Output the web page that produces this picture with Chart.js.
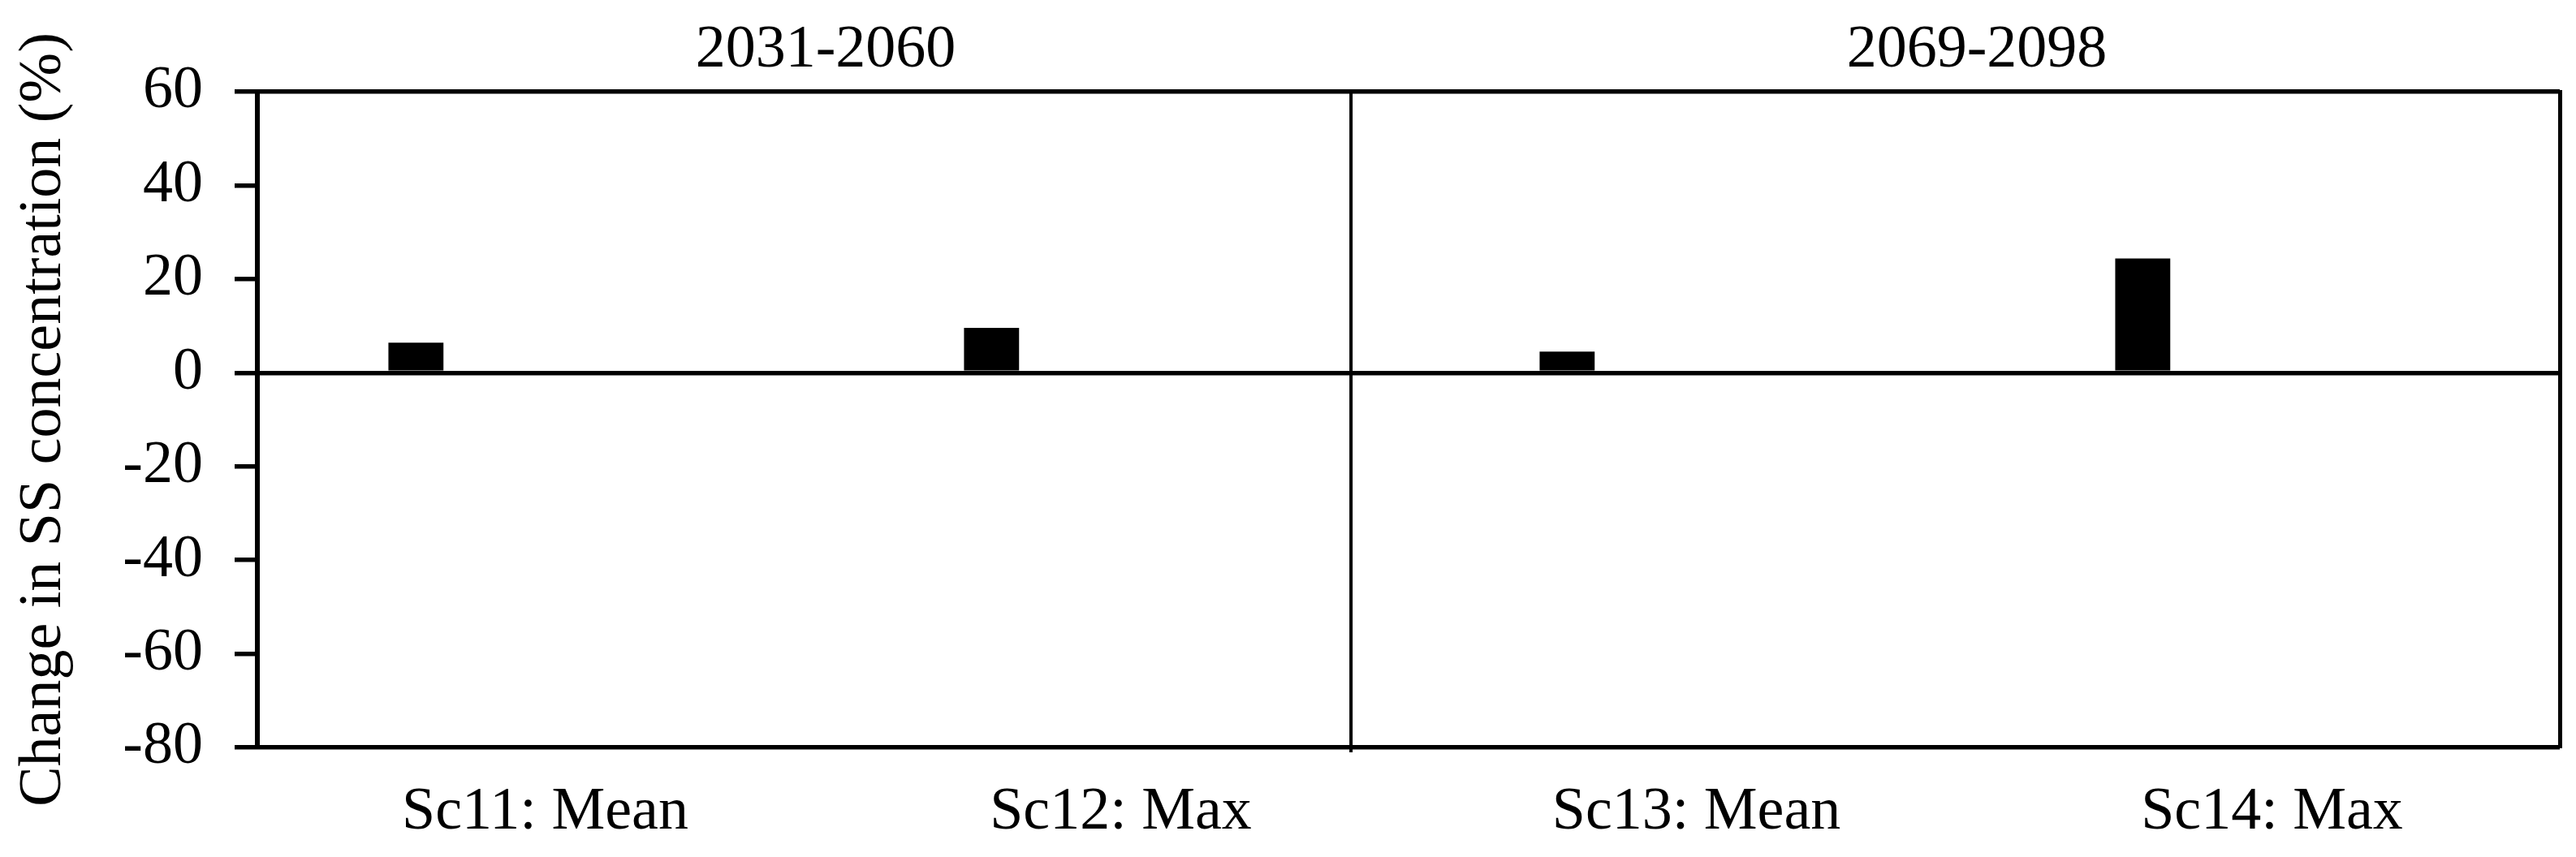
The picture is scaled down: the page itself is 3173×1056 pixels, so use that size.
<!DOCTYPE html>
<html>
<head>
<meta charset="utf-8">
<script src="https://cdn.jsdelivr.net/npm/chart.js@4.4.1/dist/chart.umd.min.js"></script>
<style>
  html, body { margin: 0; padding: 0; background: #fff; }
  canvas { display: block; }
</style>
</head>
<body>
<canvas id="ssChange" width="3173" height="1056"></canvas>
<script>
// scenarios on the x axis
const scenarios = ['Sc11: Mean', 'Sc12: Max', 'Sc13: Mean', 'Sc14: Max'];
// change in SS concentration (%)
const ssChange = [6.4, 9.6, 4.5, 24.4];
// periods shown above the plot
const periods = ['2031-2060', '2069-2098'];
// y ticks
const yTicks = [60, 40, 20, 0, -20, -40, -60, -80];

// the vertical line between the two periods (category index units)
const dividerAt = 1.4;

const font = { family: '"Liberation Serif", "Times New Roman", serif', size: 74 };

const periodDivider = {
    id: 'periodDivider',
    afterDatasetsDraw(chart) {
        const { ctx, chartArea, scales } = chart;
        const px = scales.x.getPixelForValue(dividerAt);
        ctx.save();
        ctx.strokeStyle = '#000';
        ctx.lineWidth = 4;
        ctx.beginPath();
        ctx.moveTo(px, chartArea.top);
        ctx.lineTo(px, chartArea.bottom + 6);
        ctx.stroke();
        ctx.restore();
    }
};

new Chart(document.getElementById('ssChange'), {
    type: 'bar',
    data: {
        labels: scenarios,
        datasets: [
            {
                label: 'Change in SS concentration',
                data: ssChange,
                backgroundColor: '#000',
                borderWidth: 0,
                categoryPercentage: 0.898,
                barPercentage: 0.213
            },
            {
                // empty slot of the clustered layout
                label: '',
                data: scenarios.map(() => null),
                backgroundColor: '#000',
                categoryPercentage: 0.898,
                barPercentage: 0.213
            }
        ]
    },
    options: {
        responsive: false,
        animation: false,
        layout: { padding: { left: 0, right: 20, top: 0, bottom: 0 } },
        plugins: {
            legend: { display: false },
            tooltip: { enabled: false }
        },
        scales: {
            x: {
                position: 'bottom',
                offset: true,
                grid: { display: false, drawTicks: false },
                border: { display: false },
                ticks: {
                    color: '#000',
                    font: font,
                    padding: 36,
                    maxRotation: 0,
                    autoSkip: false
                },
                afterFit: (scale) => { scale.height = 135; }
            },
            x2: {
                type: 'category',
                position: 'top',
                labels: periods,
                offset: true,
                grid: { display: false, drawTicks: false },
                border: { display: false },
                ticks: {
                    color: '#000',
                    font: font,
                    padding: 6,
                    labelOffset: -9,
                    maxRotation: 0,
                    autoSkip: false
                },
                afterFit: (scale) => { scale.height = 113; }
            },
            y: {
                position: 'left',
                min: -80,
                max: 60,
                afterBuildTicks: (scale) => {
                    scale.ticks = yTicks.map(v => ({ value: v }));
                },
                grid: {
                    color: (ctx) => [60, 0, -80].includes(ctx.tick && ctx.tick.value) ? '#000' : 'rgba(0,0,0,0)',
                    lineWidth: 5.5,
                    tickColor: '#000',
                    tickWidth: 5.5,
                    tickLength: 28
                },
                border: { display: true, color: '#000', width: 6 },
                ticks: {
                    color: '#000',
                    font: font,
                    padding: 39
                },
                title: {
                    display: true,
                    text: 'Change in SS concentration (%)',
                    color: '#000',
                    font: font,
                    padding: { top: 10, bottom: 0 }
                },
                afterFit: (scale) => { scale.width = 317; }
            },
            yr: {
                position: 'right',
                grid: { drawOnChartArea: false, drawTicks: false },
                border: { display: true, color: '#000', width: 5 },
                ticks: { display: false },
                afterFit: (scale) => { scale.width = 0; }
            }
        }
    },
    plugins: [periodDivider]
});
</script>
</body>
</html>
